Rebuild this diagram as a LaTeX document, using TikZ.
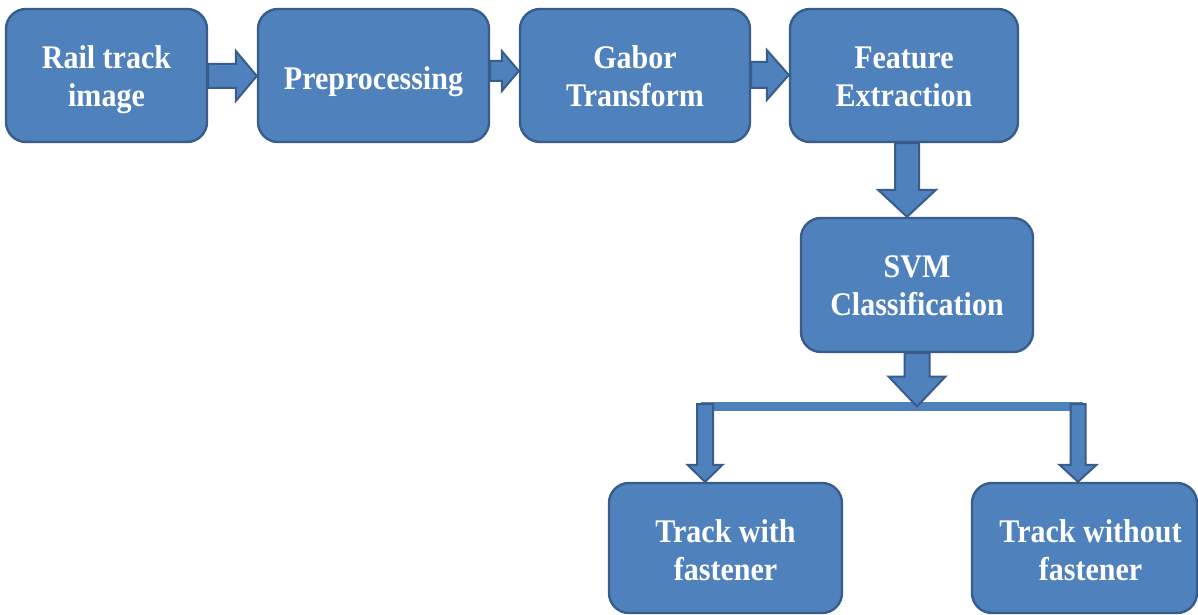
\documentclass[tikz,border=0pt]{standalone}
\usepackage{fontspec}
\newfontfamily\boxfont{Liberation Serif}[FakeStretch=0.91]
\usetikzlibrary{calc}
\pgfdeclarelayer{back}
\pgfdeclarelayer{bg}
\pgfsetlayers{back,bg,main}
\definecolor{boxfill}{RGB}{79,129,189}
\definecolor{boxline}{RGB}{56,93,138}
\newcommand{\bx}[2]{\raisebox{#1}[0pt][0pt]{\begin{tabular}[t]{@{}c@{}}#2\end{tabular}}}
% vertical block arrow: tail, tip, head length, shaft half width, head half width
\newcommand{\varrow}[5]{%
  \path[blockarrow] let \p1=#1, \p2=#2 in
    (\x2-#4pt,\y1) -- (\x2-#4pt,\y2+#3pt) -- (\x2-#5pt,\y2+#3pt) -- (\x2,\y2)
    -- (\x2+#5pt,\y2+#3pt) -- (\x2+#4pt,\y2+#3pt) -- (\x2+#4pt,\y1) -- cycle;}
% horizontal block arrow (to the right)
\newcommand{\harrow}[5]{%
  \path[blockarrow] let \p1=#1, \p2=#2 in
    (\x1,\y2+#4pt) -- (\x2-#3pt,\y2+#4pt) -- (\x2-#3pt,\y2+#5pt) -- (\x2,\y2)
    -- (\x2-#3pt,\y2-#5pt) -- (\x2-#3pt,\y2-#4pt) -- (\x1,\y2-#4pt) -- cycle;}
\tikzset{
  stepbox/.style={draw=boxline, fill=boxfill, line width=2.4pt, rounded corners=20pt,
    text=white, inner sep=0pt, font=\boxfont\bfseries\fontsize{33}{38}\selectfont},
  blockarrow/.style={draw=boxline, fill=boxfill, line width=2pt, line join=miter},
  barstyle/.style={fill=boxfill, inner sep=0pt}
}
\begin{document}
\begin{tikzpicture}[x=1pt,y=-1pt]
\begin{pgfonlayer}{back}
\fill[white] (0,0) rectangle (1198,615);
\end{pgfonlayer}
\useasboundingbox (0,0) rectangle (1198,615);

\node[stepbox, minimum width=201pt, minimum height=133pt] (rail) at (106.5,75.5) {\bx{7pt}{Rail track\\image}};
\node[stepbox, minimum width=231pt, minimum height=133pt] (prep) at (373.5,75.5) {\bx{-14pt}{Preprocessing}};
\node[stepbox, minimum width=230pt, minimum height=133pt] (gabor) at (635,75.5) {\bx{7pt}{Gabor\\Transform}};
\node[stepbox, minimum width=228pt, minimum height=133pt] (feat) at (904,75.5) {\bx{7pt}{Feature\\Extraction}};
\node[stepbox, minimum width=232pt, minimum height=134pt] (svm) at (917,285) {\bx{8pt}{SVM\\Classification}};
\node[stepbox, minimum width=233pt, minimum height=130pt] (with) at (725.5,548) {\bx{6pt}{Track with\\fastener}};
\node[stepbox, minimum width=225pt, minimum height=130pt] (without) at (1084.5,548) {\bx{6pt}{\hspace*{12pt}\begin{tabular}[t]{@{}c@{}}Track without\\fastener\end{tabular}}};

\begin{pgfonlayer}{bg}
\harrow{(rail.east)}{(prep.west |- 0,76)}{21}{12}{25}
\harrow{(prep.east)}{(gabor.west |- 0,71)}{17}{10}{20}
\harrow{(gabor.east)}{(feat.west |- 0,75)}{22}{13}{25}
\varrow{(feat.south)}{(svm.north -| 907,0)}{27}{12}{29}
\node[barstyle, minimum width=382pt, minimum height=9pt] (bar) at (892,406.5) {};
\varrow{(svm.south)}{(svm.south |- bar.center)}{30}{12.5}{28.5}
\coordinate (barL) at (705,404);
\coordinate (barR) at (1078,404);
\varrow{(barL)}{(with.north -| barL)}{17}{8}{17.5}
\varrow{(barR)}{(without.north -| barR)}{17}{7.5}{18.5}
\end{pgfonlayer}
\end{tikzpicture}
\end{document}
